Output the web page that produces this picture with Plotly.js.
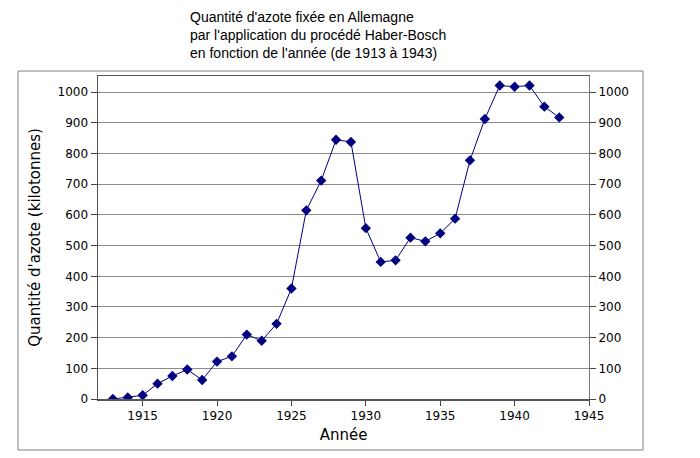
<!DOCTYPE html>
<html>
<head>
<meta charset="utf-8">
<script src="https://cdn.plot.ly/plotly-3.0.1.min.js"></script>
<style>
  html, body { margin: 0; padding: 0; background: #fff; }
  #chart { width: 700px; height: 458px; }
</style>
</head>
<body>
<div id="chart"></div>
<script>
// Quantité d'azote fixée (kt)
const years = [1913, 1914, 1915, 1916, 1917, 1918, 1919, 1920, 1921, 1922,
               1923, 1924, 1925, 1926, 1927, 1928, 1929, 1930, 1931, 1932,
               1933, 1934, 1935, 1936, 1937, 1938, 1939, 1940, 1941, 1942, 1943];
const azote = [0, 5, 12, 50, 75, 96, 62, 122, 139, 210,
               190, 245, 360, 615, 712, 845, 838, 557, 447, 452,
               526, 514, 540, 588, 778, 913, 1022, 1018, 1022, 953, 918];
const xTicks = [1915, 1920, 1925, 1930, 1935, 1940, 1945];
const yTicks = [0, 100, 200, 300, 400, 500, 600, 700, 800, 900, 1000];

const navy = '#000080';
const tickFont = {family: 'DejaVu Sans', size: 12, color: '#000'};

const trace = {
    x: years,
    y: azote,
    type: 'scatter',
    mode: 'lines+markers',
    line: {color: navy, width: 1},
    marker: {symbol: 'diamond', size: 8, color: navy},
    hoverinfo: 'x+y'
};
// copie invisible pour faire exister l'axe de droite
const traceRight = {
    x: years,
    y: azote,
    type: 'scatter',
    mode: 'lines',
    line: {width: 0},
    opacity: 0,
    yaxis: 'y2',
    hoverinfo: 'skip',
    showlegend: false
};

const layout = {
    width: 700,
    height: 458,
    margin: {l: 98, r: 111, t: 76, b: 59},
    paper_bgcolor: '#fff',
    plot_bgcolor: '#fff',
    showlegend: false,
    xaxis: {
        range: [1912, 1945],
        tickvals: xTicks,
        ticks: 'outside', ticklen: 5, tickcolor: '#444',
        tickfont: tickFont,
        showgrid: false, zeroline: false,
        showline: true, linecolor: '#555', linewidth: 1.5,
        mirror: true,
        title: {text: 'Année', font: {family: 'DejaVu Sans', size: 15, color: '#000'}, standoff: 7}
    },
    yaxis: {
        range: [0, 1053],
        tickvals: yTicks,
        ticks: 'outside', ticklen: 6, tickcolor: '#444',
        tickfont: tickFont,
        showgrid: true, gridcolor: '#8c8c8c', gridwidth: 1,
        zeroline: false,
        showline: true, linecolor: '#555', linewidth: 1.5,
        title: {text: "Quantité d'azote (kilotonnes)", font: {family: 'DejaVu Sans', size: 15, color: '#000'}, standoff: 13}
    },
    yaxis2: {
        overlaying: 'y', side: 'right',
        range: [0, 1053],
        tickvals: yTicks,
        ticks: 'outside', ticklen: 6, tickcolor: '#444',
        tickfont: tickFont,
        showgrid: false, zeroline: false,
        showline: true, linecolor: '#777', linewidth: 1
    },
    annotations: [{
        text: "Quantité d'azote fixée en Allemagne<br>par l'application du procédé Haber-Bosch<br>en fonction de l'année (de 1913 à 1943)",
        font: {family: 'Liberation Sans', size: 14, color: '#000'},
        xref: 'paper', yref: 'paper',
        x: (188 - 98) / 491, xanchor: 'left',
        y: (399 - 7) / 323, yanchor: 'top',
        align: 'left', showarrow: false
    }],
    shapes: [{
        type: 'rect', xref: 'paper', yref: 'paper',
        x0: (18 - 98) / 491, x1: (643 - 98) / 491,
        y0: (399 - 450) / 323, y1: (399 - 71) / 323,
        line: {color: '#808080', width: 1}
    }]
};

Plotly.newPlot('chart', [trace, traceRight], layout, {displayModeBar: false, staticPlot: true});
</script>
</body>
</html>
